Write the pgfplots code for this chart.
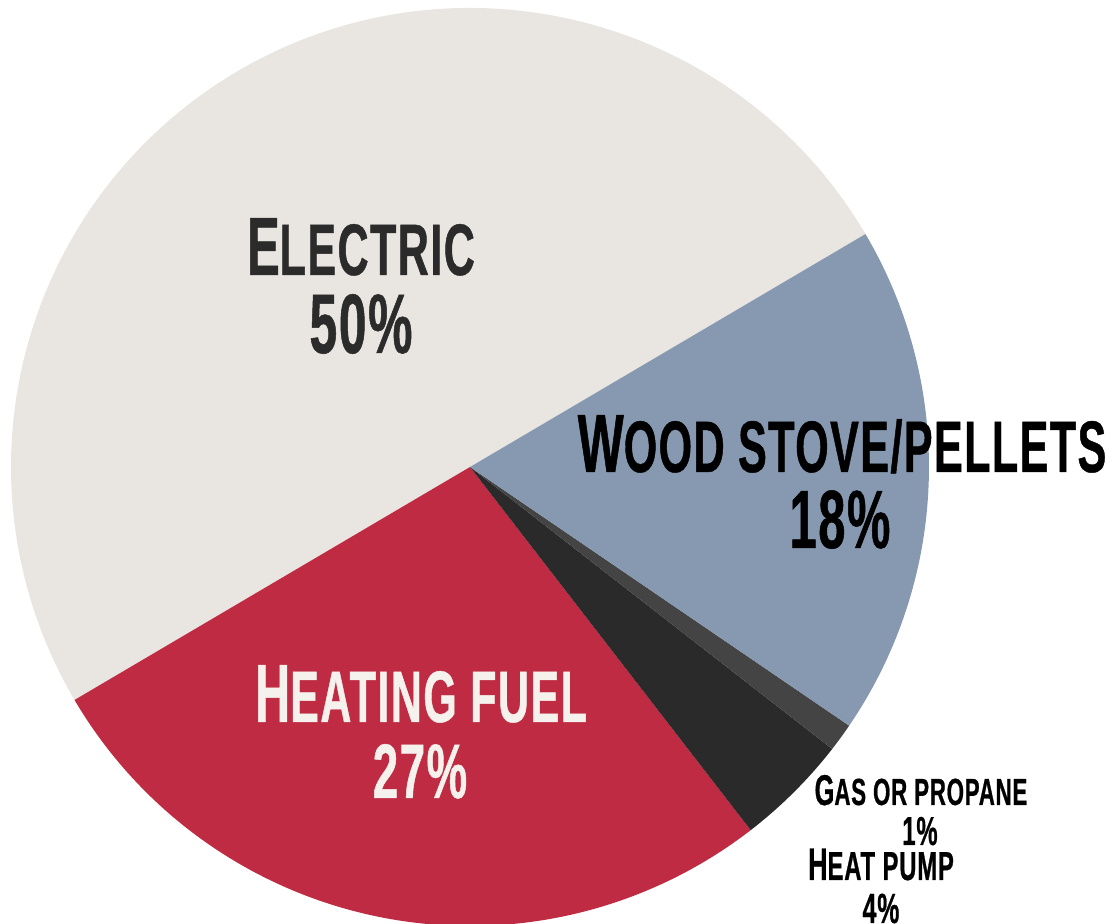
\documentclass[border=0pt]{standalone}
\usepackage{pgfplots}
\usepackage{pgfplotstable}
\pgfplotsset{compat=1.18}
\usepackage{fontspec}
\newfontfamily\cond[FakeStretch=0.59, LetterSpace=2, FakeBold=0.6]{Liberation Sans}

\definecolor{cElec}{HTML}{E9E6E1}
\definecolor{cFuel}{HTML}{BE2B42}
\definecolor{cPump}{HTML}{2A2A2A}
\definecolor{cGas}{HTML}{444444}
\definecolor{cWood}{HTML}{8799B0}
\definecolor{txtDark}{HTML}{2B2B2B}
\definecolor{txtLight}{HTML}{F5F1EC}

% share of homes by main heating source, counter-clockwise from the start angle
\pgfplotstableread{
label value color
Electric 50 cElec
Fuel 27 cFuel
Pump 4 cPump
Gas 1 cGas
Wood 18 cWood
}\piedata

% big first capital, rest in smaller capitals
\newcommand\sclab[4]{{\fontsize{#1}{#1}\selectfont #3}{\fontsize{#2}{#2}\selectfont #4}}
\newcommand\pct[2]{{\fontsize{#1}{#1}\selectfont #2}}

\begin{document}
\begin{tikzpicture}
\useasboundingbox (0,0) rectangle (224mm,184.8mm);
\begin{axis}[
    x=0.2mm, y=0.2mm,
    xmin=0, xmax=1120, ymin=0, ymax=924,
    scale only axis, hide axis, clip=false,
    every node/.style={inner sep=0pt, outer sep=0pt},
]
\pgfmathsetmacro\cum{30.5}
\pgfplotsforeachungrouped \i in {0,...,4}{
    \pgfplotstablegetelem{\i}{value}\of\piedata \let\v\pgfplotsretval
    \pgfplotstablegetelem{\i}{color}\of\piedata \let\c\pgfplotsretval
    \pgfmathsetmacro\e{\cum+3.6*\v}
    \edef\temp{\noexpand\fill[\c] (axis cs:470,457) -- ++(\cum:91.8mm)
        arc[start angle=\cum, end angle=\e, radius=91.8mm] -- cycle;}
    \temp
    \global\let\cum\e
}

\node[anchor=base, text=txtDark, font=\cond\bfseries] at (axis cs:361,649) {\sclab{47pt}{41.5pt}{E}{LECTRIC}};
\node[anchor=base, text=txtDark, font=\cond\bfseries] at (axis cs:361,571) {\pct{48pt}{50\%}};

\node[anchor=base, text=black, font=\cond\bfseries] at (axis cs:842,452) {\sclab{47pt}{41.5pt}{W}{OOD STOVE/PELLETS}};
\node[anchor=base, text=black, font=\cond\bfseries] at (axis cs:840,376) {\pct{47pt}{18\%}};

\node[anchor=base, text=txtLight, font=\cond\bfseries] at (axis cs:421,202) {\sclab{47pt}{41.5pt}{H}{EATING FUEL}};
\node[anchor=base, text=txtLight, font=\cond\bfseries] at (axis cs:420,126) {\pct{44pt}{27\%}};

\node[anchor=base, text=black, font=\cond\bfseries] at (axis cs:921,119) {\sclab{24.5pt}{21.5pt}{G}{AS OR PROPANE}};
\node[anchor=base, text=black, font=\cond\bfseries] at (axis cs:920,79) {\pct{23pt}{1\%}};

\node[anchor=base, text=black, font=\cond\bfseries] at (axis cs:881,44) {\sclab{26pt}{23pt}{H}{EAT PUMP}};
\node[anchor=base, text=black, font=\cond\bfseries] at (axis cs:881,1) {\pct{24pt}{4\%}};
\end{axis}
\end{tikzpicture}
\end{document}
